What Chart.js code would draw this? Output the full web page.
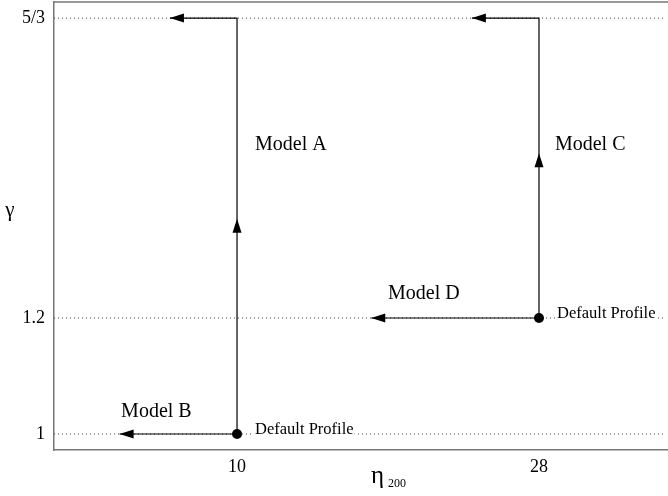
<!DOCTYPE html>
<html>
<head>
<meta charset="utf-8">
<script src="https://cdn.jsdelivr.net/npm/chart.js@4.4.1/dist/chart.umd.min.js"></script>
<style>
html, body { margin: 0; padding: 0; background: #fff; overflow: hidden; }
canvas { display: block; }
</style>
</head>
<body>
<canvas id="myChart" width="668" height="496"></canvas>
<script>
// x ticks (eta_200)
const xTicks = [10, 28];
// gamma levels as placed on the schematic y axis, with their labels
const yLevels = [1, 1.2, 1.717];
const yLabels = ['1', '1.2', '5/3'];

// the two default profiles
const defaultX = [10, 28];
const defaultY = [1, 1.2];

// model paths, arrowheads drawn at the listed point indexes
const modelA_x = [10, 10, 10, 6];
const modelA_y = [1, 1.371, yLevels[2], yLevels[2]];
const modelA_heads = [1, 3];
const modelB_x = [10, 3];
const modelB_y = [1, 1];
const modelB_heads = [1];
const modelC_x = [28, 28, 28, 24];
const modelC_y = [1.2, 1.484, yLevels[2], yLevels[2]];
const modelC_heads = [1, 3];
const modelD_x = [28, 18];
const modelD_y = [1.2, 1.2];
const modelD_heads = [1];

// text labels in data coordinates
const modelNames = ['Model A', 'Model B', 'Model C', 'Model D'];
const modelLabelX = [11.07, 3.09, 28.95, 19.0];
const modelLabelY = [1.498, 1.038, 1.498, 1.241];
const defaultText = 'Default Profile';

// axis limits
const xMin = -0.91, xMax = 35.69;
const yMin = 0.9724, yMax = 1.7448;

const serif = "'Liberation Serif', 'DejaVu Serif', serif";

function pts(xs, ys) {
    return xs.map((x, i) => ({x: x, y: ys[i]}));
}

function modelSet(xs, ys, heads) {
    return {
        data: pts(xs, ys),
        heads: heads,
        borderColor: '#000',
        borderWidth: 1.2,
        pointRadius: 0,
        tension: 0,
        fill: false
    };
}

const datasets = [];
datasets.push({
    data: pts(defaultX, defaultY),
    showLine: false,
    pointRadius: 5,
    pointBackgroundColor: '#000',
    pointBorderColor: '#000',
    pointBorderWidth: 0
});
datasets.push(modelSet(modelA_x, modelA_y, modelA_heads));
datasets.push(modelSet(modelB_x, modelB_y, modelB_heads));
datasets.push(modelSet(modelC_x, modelC_y, modelC_heads));
datasets.push(modelSet(modelD_x, modelD_y, modelD_heads));
yLevels.forEach(lvl => {
    datasets.push({
        data: [{x: xMin, y: lvl}, {x: xMax, y: lvl}],
        borderColor: '#444',
        borderWidth: 1,
        borderDash: [1, 3],
        pointRadius: 0,
        fill: false
    });
});

const extras = {
    id: 'extras',
    afterDraw(chart) {
        const ctx = chart.ctx;
        const xs = chart.scales.x, ys = chart.scales.y;
        const area = chart.chartArea;
        ctx.save();

        // the frame is open on the right: clear that edge
        ctx.fillStyle = '#fff';
        ctx.fillRect(area.right - 2.5, area.top + 1, 3, area.bottom - area.top - 2);

        // top frame line
        ctx.strokeStyle = '#777';
        ctx.lineWidth = 1.5;
        ctx.beginPath();
        ctx.moveTo(area.left, area.top);
        ctx.lineTo(area.right, area.top);
        ctx.stroke();

        // arrowheads
        chart.data.datasets.forEach((ds, i) => {
            if (!ds.heads) return;
            const meta = chart.getDatasetMeta(i);
            ds.heads.forEach(k => {
                const p = meta.data[k], q = meta.data[k - 1];
                const ang = Math.atan2(p.y - q.y, p.x - q.x);
                ctx.save();
                ctx.translate(p.x, p.y);
                ctx.rotate(ang);
                ctx.beginPath();
                ctx.moveTo(0, 0);
                ctx.lineTo(-14, -4.5);
                ctx.lineTo(-14, 4.5);
                ctx.closePath();
                ctx.fillStyle = '#000';
                ctx.fill();
                ctx.restore();
            });
        });

        // model labels
        ctx.fillStyle = '#000';
        ctx.font = '20px ' + serif;
        ctx.textAlign = 'left';
        ctx.textBaseline = 'middle';
        modelNames.forEach((n, i) => {
            ctx.fillText(n, xs.getPixelForValue(modelLabelX[i]), ys.getPixelForValue(modelLabelY[i]));
        });

        // default profile notes
        ctx.font = '16.5px ' + serif;
        ctx.textBaseline = 'alphabetic';
        defaultX.forEach((x, i) => {
            const px = xs.getPixelForValue(x) + 18;
            const py = ys.getPixelForValue(defaultY[i]);
            const w = ctx.measureText(defaultText).width;
            ctx.fillStyle = '#fff';
            ctx.fillRect(px - 1, py - 12, w + 2, 15);
            ctx.fillStyle = '#000';
            ctx.fillText(defaultText, px, py);
        });

        // axis titles
        ctx.font = '21px ' + serif;
        ctx.textAlign = 'center';
        ctx.fillText('\u03b3', 10, 216);
        ctx.textAlign = 'left';
        ctx.font = '25px ' + serif;
        ctx.fillText('\u03b7', 371, 483);
        ctx.font = '12px ' + serif;
        ctx.fillText('200', 388, 487);

        ctx.restore();
    }
};

new Chart(document.getElementById('myChart'), {
    type: 'line',
    data: { datasets: datasets },
    options: {
        responsive: false,
        animation: false,
        events: [],
        layout: { autoPadding: false, padding: { top: 2, right: 0, left: 0, bottom: 0 } },
        plugins: { legend: { display: false }, tooltip: { enabled: false } },
        scales: {
            x: {
                type: 'linear',
                min: xMin,
                max: xMax,
                grid: { display: false, drawTicks: false },
                border: { display: true, color: '#777', width: 1.5 },
                afterBuildTicks: s => { s.ticks = xTicks.map(v => ({value: v})); },
                afterFit: s => {
                    s.height = 46;
                    s.paddingLeft = 0; s.paddingRight = 0;
                },
                ticks: {
                    padding: 6,
                    color: '#000',
                    font: { family: serif, size: 18 },
                    callback: v => String(v)
                }
            },
            y: {
                type: 'linear',
                min: yMin,
                max: yMax,
                grid: { display: false, drawTicks: false },
                border: { display: true, color: '#777', width: 1.5 },
                afterBuildTicks: s => { s.ticks = yLevels.map(v => ({value: v})); },
                afterFit: s => {
                    s.width = 54;
                    s.paddingTop = 0; s.paddingBottom = 0;
                },
                ticks: {
                    padding: 9,
                    color: '#000',
                    font: { family: serif, size: 18 },
                    callback: v => {
                        const i = yLevels.indexOf(v);
                        return i >= 0 ? yLabels[i] : '';
                    }
                }
            }
        }
    },
    plugins: [extras]
});
</script>
</body>
</html>
